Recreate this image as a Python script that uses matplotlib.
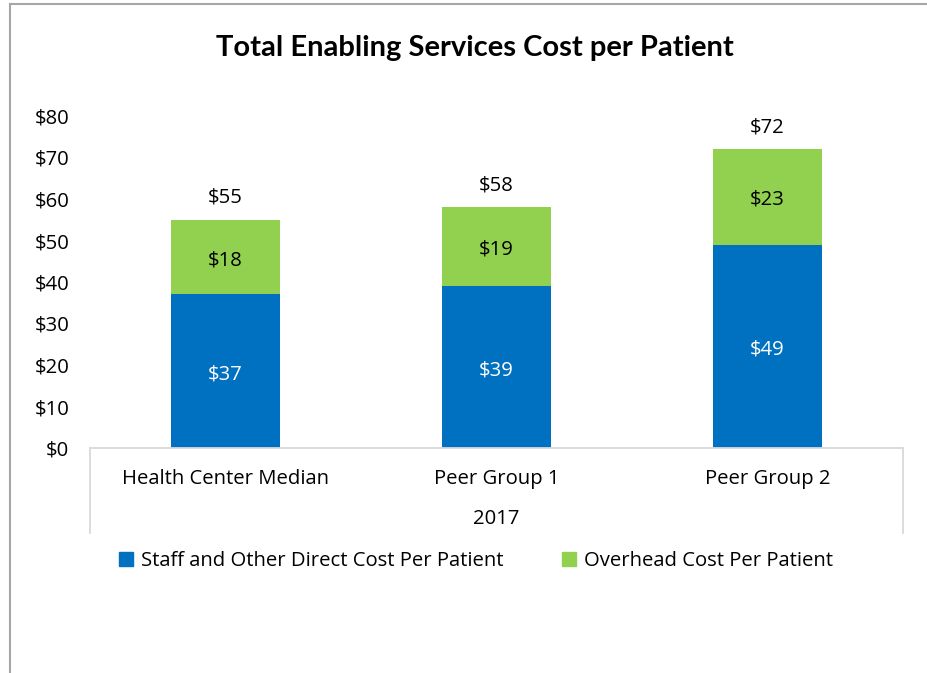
import matplotlib.pyplot as plt
import numpy as np
from matplotlib.lines import Line2D
from matplotlib.patches import Patch

categories = ['Health Center Median', 'Peer Group 1', 'Peer Group 2']
year = '2017'
direct = [37, 39, 49]
overhead = [18, 19, 23]
totals = [55, 58, 72]
yticks = [0, 10, 20, 30, 40, 50, 60, 70, 80]

blue = '#0070C0'
green = '#92D050'
lbl = 'Open Sans'
fs = 14.6

fig = plt.figure(figsize=(9.28, 6.73), dpi=100)
ax = fig.add_axes([90 / 928, 225 / 673, 813 / 928, 332 / 673])

x = np.arange(len(categories))
ax.bar(x, direct, width=0.4, color=blue)
ax.bar(x, overhead, width=0.4, bottom=direct, color=green)

# labels inside and above bars (small nudge down to match text baseline)
for i in range(len(x)):
    ax.text(x[i], direct[i] / 2 - 0.8, '$%d' % direct[i], ha='center', va='center',
            color='white', fontsize=fs, family=lbl)
    ax.text(x[i], direct[i] + overhead[i] / 2 - 0.7, '$%d' % overhead[i], ha='center',
            va='center', color='black', fontsize=fs, family=lbl)
    ax.text(x[i], totals[i] + 5.3, '$%d' % totals[i], ha='center', va='center',
            color='black', fontsize=fs, family=lbl)

ax.set_xlim(-0.5, 2.5)
ax.set_ylim(0, 80)
ax.set_yticks(yticks)
ax.set_yticklabels(['$%d' % v for v in yticks], fontsize=fs, family=lbl)
ax.tick_params(axis='y', length=0, pad=15)
ax.set_xticks([])
for s in ax.spines.values():
    s.set_visible(False)

# category axis box
box = '#D9D9D9'
ax.plot([-0.5, 2.5], [0, 0], color=box, lw=1.3, clip_on=False)
for xx in [-0.5, 2.5]:
    ax.plot([xx, xx], [0, -20.5], color=box, lw=1.3, clip_on=False)
for i, c in enumerate(categories):
    ax.text(x[i], -7.4, c, ha='center', va='center', fontsize=fs, family=lbl)
ax.text(1, -17.2, year, ha='center', va='center', fontsize=fs, family=lbl)

fig.text(475 / 928, 1 - 48 / 673, 'Total Enabling Services Cost per Patient',
         ha='center', va='center', fontsize=21, fontweight='bold', family='Lato')

handles = [Patch(color=blue), Patch(color=green)]
fig.legend(handles, ['Staff and Other Direct Cost Per Patient', 'Overhead Cost Per Patient'],
           loc='center', bbox_to_anchor=(476 / 928, 1 - 561 / 673), ncol=2, frameon=False,
           prop={'family': lbl, 'size': fs}, handlelength=0.7, handleheight=0.7,
           handletextpad=0.4, columnspacing=2.9)

# outer chart border
fig.add_artist(Line2D([10 / 928, 10 / 928], [0, 1 - 4 / 673], color='#A6A6A6', lw=1.5))
fig.add_artist(Line2D([10 / 928, 1], [1 - 4 / 673, 1 - 4 / 673], color='#A6A6A6', lw=1.5))

fig.savefig('out.png', dpi=100)
